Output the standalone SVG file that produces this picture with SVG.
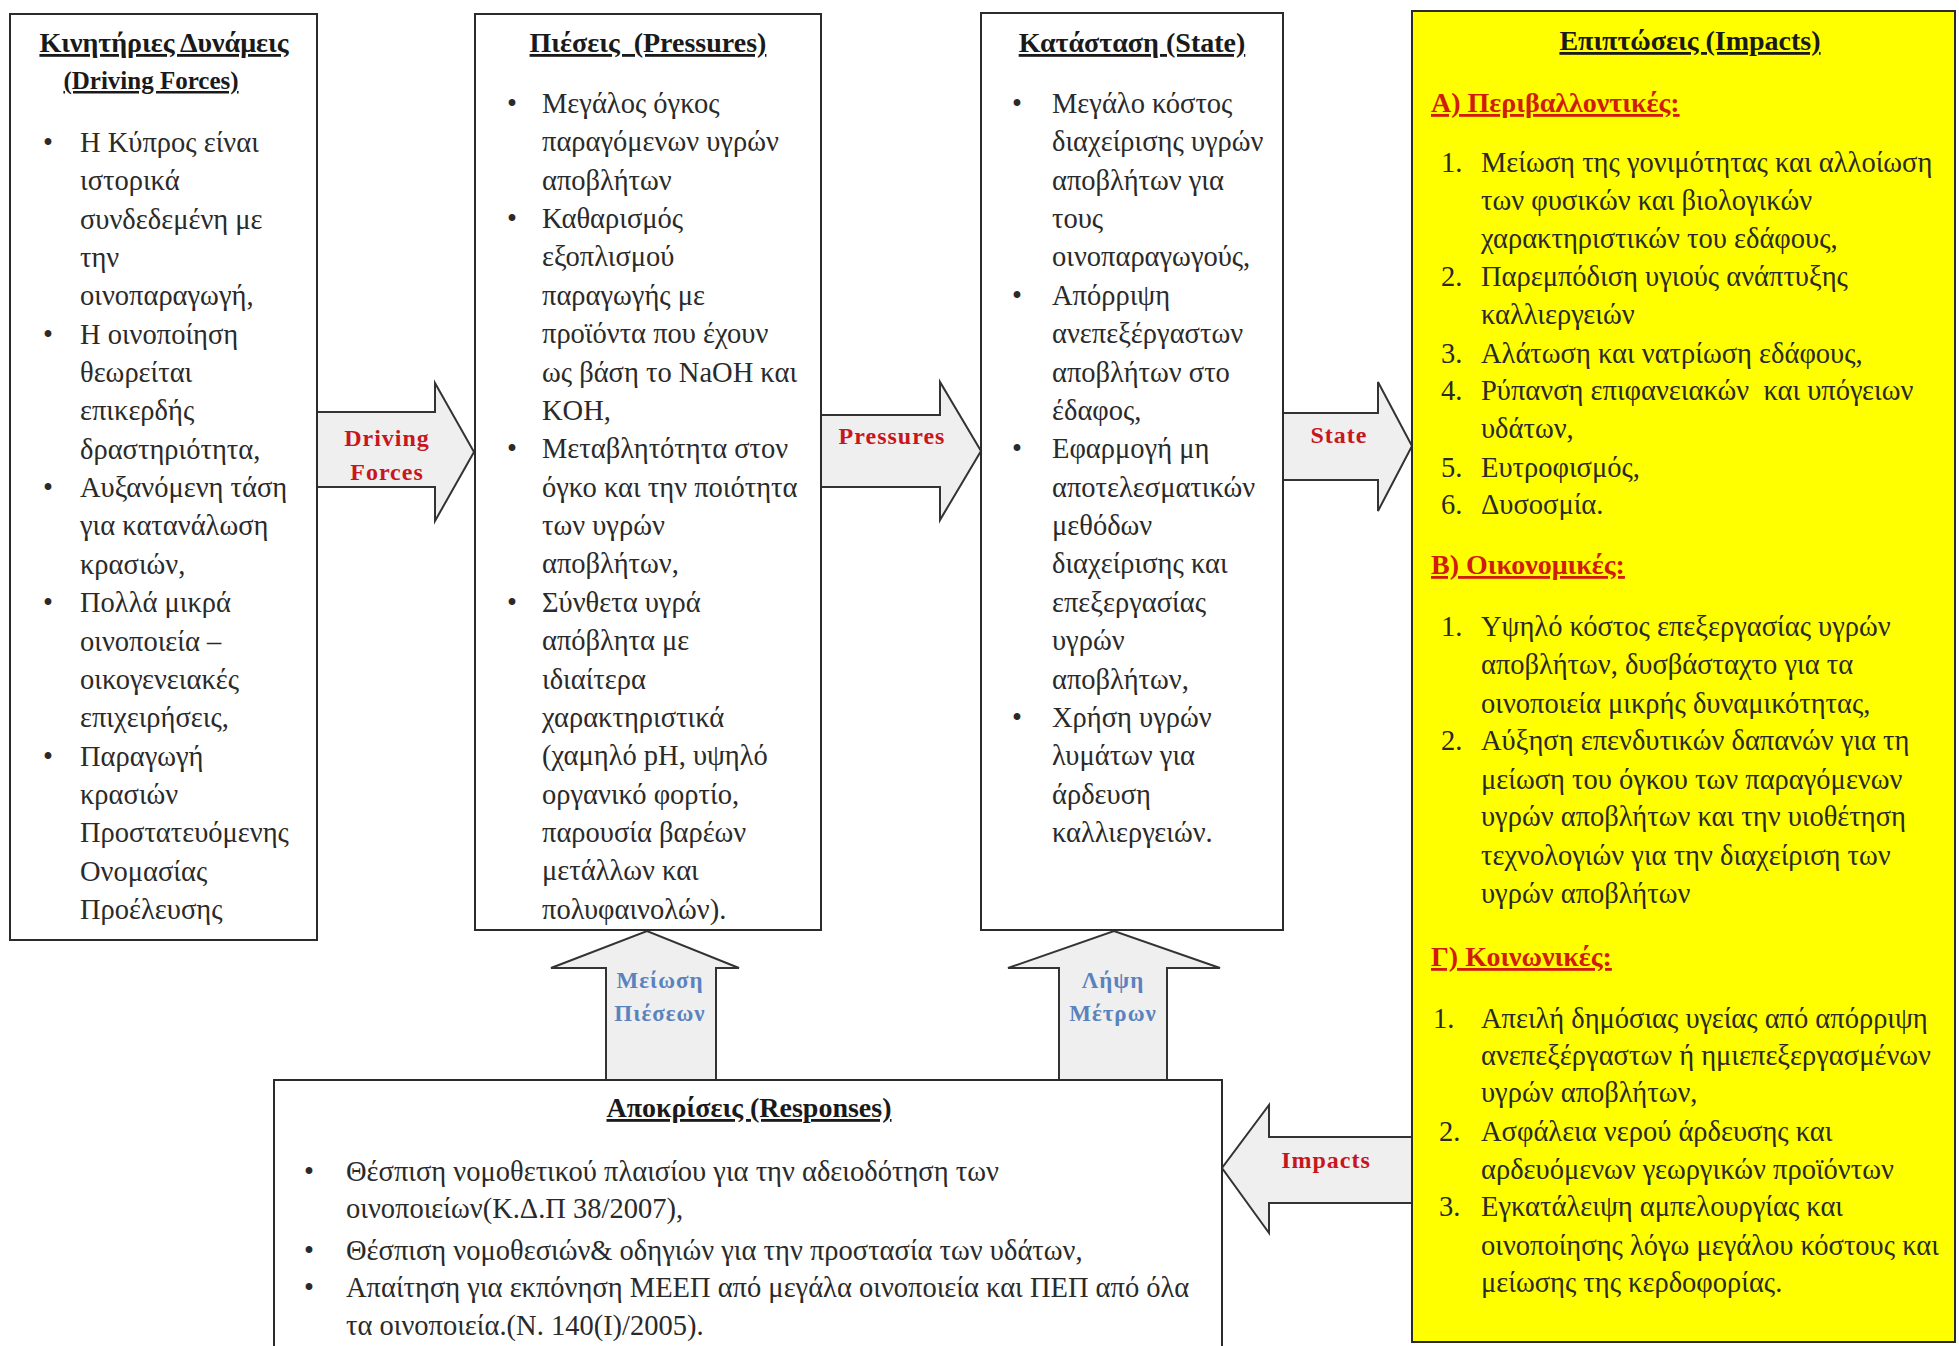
<svg xmlns="http://www.w3.org/2000/svg" width="1959" height="1346" viewBox="0 0 1959 1346">
  <style>
    text { font-family: "Liberation Serif", "Times New Roman", serif; fill: #2a2a2a; }
    .body { font-size: 28.5px; }
    .head { font-size: 28px; font-weight: bold; text-decoration: underline; fill: #1a1a1a; }
    .sec { font-size: 28px; font-weight: bold; text-decoration: underline; fill: #d01c0c; }
    .lbl { font-size: 24px; font-weight: bold; fill: #c8161e; letter-spacing: 1px; }
    .lblb { font-size: 23px; font-weight: bold; fill: #5a83bd; letter-spacing: 1px; }
    .box { fill: #ffffff; stroke: #2b2b2b; stroke-width: 2; }
    .ybox { fill: #ffff00; stroke: #2b2b2b; stroke-width: 2; }
    .arrow { fill: #efefef; stroke: #333333; stroke-width: 2; stroke-linejoin: miter; }
  </style>

  <rect width="1959" height="1346" fill="#ffffff"/>

  <!-- block arrows between the DPSIR stages -->
  <g id="connectors">
    <polygon class="arrow" points="317,412 435,412 435,383 474,452 435,521 435,487 317,487"/>
    <polygon class="arrow" points="821,415 940,415 940,382 981,451 940,520 940,487 821,487"/>
    <polygon class="arrow" points="1283,413 1378,413 1378,382 1412,446 1378,511 1378,480 1283,480"/>
    <polygon class="arrow" points="1412,1137 1269,1137 1269,1105 1222,1168 1269,1233 1269,1203 1412,1203"/>
    <polygon class="arrow" points="606,1080 606,968 551,968 647,931 739,968 716,968 716,1080"/>
    <polygon class="arrow" points="1059,1080 1059,968 1008,968 1114,931 1220,968 1167,968 1167,1080"/>
    <text class="lbl" x="387" y="446" text-anchor="middle">Driving</text>
    <text class="lbl" x="387" y="480" text-anchor="middle">Forces</text>
    <text class="lbl" x="892" y="444" text-anchor="middle">Pressures</text>
    <text class="lbl" x="1339" y="443" text-anchor="middle">State</text>
    <text class="lbl" x="1326" y="1168" text-anchor="middle">Impacts</text>
    <text class="lblb" x="660" y="988" text-anchor="middle">Μείωση</text>
    <text class="lblb" x="660" y="1021" text-anchor="middle">Πιέσεων</text>
    <text class="lblb" x="1113" y="988" text-anchor="middle">Λήψη</text>
    <text class="lblb" x="1113" y="1021" text-anchor="middle">Μέτρων</text>
  </g>

  <!-- Driving Forces -->
  <g id="driving-forces">
    <rect class="box" x="10" y="14" width="307" height="926"/>
    <text class="head" x="164" y="52" text-anchor="middle">Κινητήριες Δυνάμεις</text>
    <text class="head" x="151" y="89" text-anchor="middle" style="font-size:25px">(Driving Forces)</text>
    <g class="body">
      <text x="43" y="152">•</text><text x="80" y="152">Η Κύπρος είναι</text>
      <text x="80" y="190">ιστορικά</text>
      <text x="80" y="229">συνδεδεμένη με</text>
      <text x="80" y="267">την</text>
      <text x="80" y="305">οινοπαραγωγή,</text>
      <text x="43" y="344">•</text><text x="80" y="344">Η οινοποίηση</text>
      <text x="80" y="382">θεωρείται</text>
      <text x="80" y="420">επικερδής</text>
      <text x="80" y="459">δραστηριότητα,</text>
      <text x="43" y="497">•</text><text x="80" y="497">Αυξανόμενη τάση</text>
      <text x="80" y="535">για κατανάλωση</text>
      <text x="80" y="574">κρασιών,</text>
      <text x="43" y="612">•</text><text x="80" y="612">Πολλά μικρά</text>
      <text x="80" y="651">οινοποιεία –</text>
      <text x="80" y="689">οικογενειακές</text>
      <text x="80" y="727">επιχειρήσεις,</text>
      <text x="43" y="766">•</text><text x="80" y="766">Παραγωγή</text>
      <text x="80" y="804">κρασιών</text>
      <text x="80" y="842">Προστατευόμενης</text>
      <text x="80" y="881">Ονομασίας</text>
      <text x="80" y="919">Προέλευσης</text>
    </g>
  </g>

  <!-- Pressures -->
  <g id="pressures">
    <rect class="box" x="475" y="14" width="346" height="916"/>
    <text class="head" x="648" y="52" text-anchor="middle" xml:space="preserve">Πιέσεις  (Pressures)</text>
    <g class="body">
      <text x="507" y="113">•</text><text x="542" y="113">Μεγάλος όγκος</text>
      <text x="542" y="151">παραγόμενων  υγρών</text>
      <text x="542" y="190">αποβλήτων</text>
      <text x="507" y="228">•</text><text x="542" y="228">Καθαρισμός</text>
      <text x="542" y="266">εξοπλισμού</text>
      <text x="542" y="305">παραγωγής με</text>
      <text x="542" y="343">προϊόντα που έχουν</text>
      <text x="542" y="382">ως βάση το NaOH και</text>
      <text x="542" y="420">KOH,</text>
      <text x="507" y="458">•</text><text x="542" y="458">Μεταβλητότητα στον</text>
      <text x="542" y="497">όγκο και την ποιότητα</text>
      <text x="542" y="535">των υγρών</text>
      <text x="542" y="573">αποβλήτων,</text>
      <text x="507" y="612">•</text><text x="542" y="612">Σύνθετα υγρά</text>
      <text x="542" y="650">απόβλητα με</text>
      <text x="542" y="689">ιδιαίτερα</text>
      <text x="542" y="727">χαρακτηριστικά</text>
      <text x="542" y="765">(χαμηλό pH, υψηλό</text>
      <text x="542" y="804">οργανικό φορτίο,</text>
      <text x="542" y="842">παρουσία βαρέων</text>
      <text x="542" y="880">μετάλλων και</text>
      <text x="542" y="919">πολυφαινολών).</text>
    </g>
  </g>

  <!-- State -->
  <g id="state">
    <rect class="box" x="981" y="13" width="302" height="917"/>
    <text class="head" x="1132" y="52" text-anchor="middle">Κατάσταση (State)</text>
    <g class="body">
      <text x="1012" y="113">•</text><text x="1052" y="113">Μεγάλο κόστος</text>
      <text x="1052" y="151">διαχείρισης υγρών</text>
      <text x="1052" y="190">αποβλήτων για</text>
      <text x="1052" y="228">τους</text>
      <text x="1052" y="266">οινοπαραγωγούς,</text>
      <text x="1012" y="305">•</text><text x="1052" y="305">Απόρριψη</text>
      <text x="1052" y="343">ανεπεξέργαστων</text>
      <text x="1052" y="382">αποβλήτων στο</text>
      <text x="1052" y="420">έδαφος,</text>
      <text x="1012" y="458">•</text><text x="1052" y="458">Εφαρμογή μη</text>
      <text x="1052" y="497">αποτελεσματικών</text>
      <text x="1052" y="535">μεθόδων</text>
      <text x="1052" y="573">διαχείρισης και</text>
      <text x="1052" y="612">επεξεργασίας</text>
      <text x="1052" y="650">υγρών</text>
      <text x="1052" y="689">αποβλήτων,</text>
      <text x="1012" y="727">•</text><text x="1052" y="727">Χρήση υγρών</text>
      <text x="1052" y="765">λυμάτων για</text>
      <text x="1052" y="804">άρδευση</text>
      <text x="1052" y="842">καλλιεργειών.</text>
    </g>
  </g>

  <!-- Impacts -->
  <g id="impacts">
    <rect class="ybox" x="1412" y="11" width="543" height="1331"/>
    <text class="head" x="1690" y="50" text-anchor="middle">Επιπτώσεις (Impacts)</text>
    <text class="sec" x="1431" y="112">Α) Περιβαλλοντικές:</text>
    <g class="body">
      <text x="1441" y="172">1.</text><text x="1481" y="172">Μείωση της γονιμότητας και αλλοίωση</text>
      <text x="1481" y="210">των φυσικών και βιολογικών</text>
      <text x="1481" y="248">χαρακτηριστικών του εδάφους,</text>
      <text x="1441" y="286">2.</text><text x="1481" y="286">Παρεμπόδιση υγιούς ανάπτυξης</text>
      <text x="1481" y="324">καλλιεργειών</text>
      <text x="1441" y="363">3.</text><text x="1481" y="363">Αλάτωση και νατρίωση εδάφους,</text>
      <text x="1441" y="400">4.</text><text x="1481" y="400" xml:space="preserve">Ρύπανση επιφανειακών  και υπόγειων</text>
      <text x="1481" y="438">υδάτων,</text>
      <text x="1441" y="477">5.</text><text x="1481" y="477">Ευτροφισμός,</text>
      <text x="1441" y="514">6.</text><text x="1481" y="514">Δυσοσμία.</text>
    </g>
    <text class="sec" x="1431" y="574">Β) Οικονομικές:</text>
    <g class="body">
      <text x="1441" y="636">1.</text><text x="1481" y="636">Υψηλό κόστος επεξεργασίας υγρών</text>
      <text x="1481" y="674">αποβλήτων, δυσβάσταχτο για τα</text>
      <text x="1481" y="713">οινοποιεία μικρής δυναμικότητας,</text>
      <text x="1441" y="750">2.</text><text x="1481" y="750">Αύξηση επενδυτικών δαπανών για τη</text>
      <text x="1481" y="789">μείωση του όγκου των παραγόμενων</text>
      <text x="1481" y="826">υγρών αποβλήτων και την υιοθέτηση</text>
      <text x="1481" y="865">τεχνολογιών για την διαχείριση των</text>
      <text x="1481" y="903">υγρών αποβλήτων</text>
    </g>
    <text class="sec" x="1431" y="966">Γ) Κοινωνικές:</text>
    <g class="body">
      <text x="1433" y="1028">1.</text><text x="1481" y="1028">Απειλή δημόσιας υγείας από απόρριψη</text>
      <text x="1481" y="1065">ανεπεξέργαστων ή ημιεπεξεργασμένων</text>
      <text x="1481" y="1102">υγρών αποβλήτων,</text>
      <text x="1439" y="1141">2.</text><text x="1481" y="1141">Ασφάλεια νερού άρδευσης και</text>
      <text x="1481" y="1179">αρδευόμενων γεωργικών προϊόντων</text>
      <text x="1439" y="1216">3.</text><text x="1481" y="1216">Εγκατάλειψη αμπελουργίας και</text>
      <text x="1481" y="1255">οινοποίησης λόγω μεγάλου κόστους και</text>
      <text x="1481" y="1292">μείωσης της κερδοφορίας.</text>
    </g>
  </g>

  <!-- Responses -->
  <g id="responses">
    <rect class="box" x="274" y="1080" width="948" height="280"/>
    <text class="head" x="749" y="1117" text-anchor="middle">Αποκρίσεις (Responses)</text>
    <g class="body">
      <text x="304" y="1181">•</text><text x="346" y="1181">Θέσπιση νομοθετικού πλαισίου για την αδειοδότηση των</text>
      <text x="346" y="1218">οινοποιείων(Κ.Δ.Π 38/2007),</text>
      <text x="304" y="1260">•</text><text x="346" y="1260">Θέσπιση νομοθεσιών&amp; οδηγιών για την προστασία των υδάτων,</text>
      <text x="304" y="1297">•</text><text x="346" y="1297">Απαίτηση για εκπόνηση ΜΕΕΠ από μεγάλα οινοποιεία και ΠΕΠ από όλα</text>
      <text x="346" y="1335">τα οινοποιεία.(Ν. 140(Ι)/2005).</text>
    </g>
  </g>
</svg>
